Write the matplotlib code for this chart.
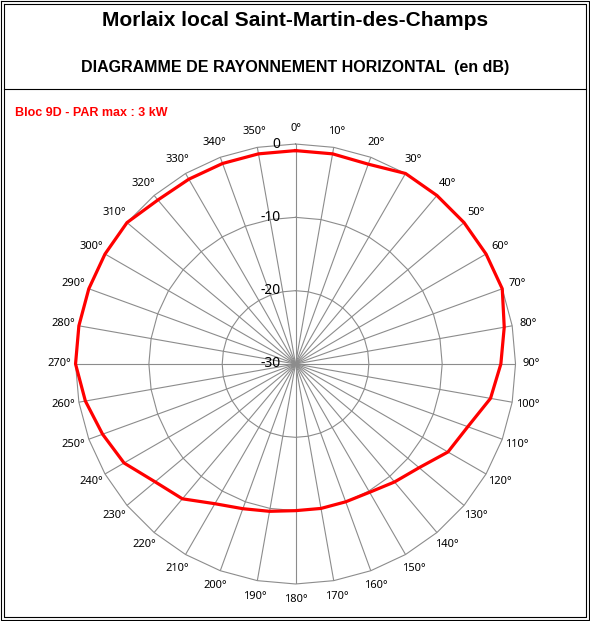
import numpy as np
import matplotlib
matplotlib.use("Agg")
import matplotlib.pyplot as plt
from matplotlib.lines import Line2D

# Horizontal radiation pattern, one value every 10 degrees (dB)
angles_deg = list(range(0, 360, 10))
gain_db = [-0.9, -0.9, -1.0, 0.0, 0.0, 0.0, 0.0, 0.0, -1.1,
           -2.0, -3.0, -5.0, -6.0, -8.0, -9.0, -9.8, -10.0, -10.0,
           -10.0, -9.6, -9.0, -8.0, -6.0, -5.0, -3.0, -2.0, -0.9,
           0.0, 0.0, 0.0, 0.0, 0.0, -0.8, -0.9, -0.9, -0.9]
angle_labels = [f"{a}°" for a in angles_deg]
r_levels = [-30, -20, -10, 0]

title = "Morlaix local Saint-Martin-des-Champs"
subtitle = "DIAGRAMME DE RAYONNEMENT HORIZONTAL  (en dB)"
series_label = "Bloc 9D - PAR max : 3 kW"

grid_col = "#8c8c8c"

fig = plt.figure(figsize=(5.9, 6.21), dpi=100)
ax = fig.add_axes([0.128, 0.0596, 0.7458, 0.7085], projection="polar")
ax.set_theta_zero_location("N")
ax.set_theta_direction(-1)
ax.set_ylim(-30, 0)

theta = np.deg2rad(angles_deg)
closed_theta = np.append(theta, theta[0])

# spokes through the theta grid, polygonal rings drawn by hand (Excel radar style)
ax.set_xticks(theta)
ax.set_xticklabels(angle_labels, fontsize=8, family="Noto Sans")
ax.tick_params(axis="x", pad=1)
ax.set_yticks(r_levels)
ax.set_yticklabels([])
ax.xaxis.grid(True, color=grid_col, linewidth=0.8)
ax.yaxis.grid(False)
ax.spines["polar"].set_visible(False)

for lvl in r_levels[1:]:
    ax.plot(closed_theta, np.full(closed_theta.shape, lvl),
            color=grid_col, linewidth=0.8, zorder=1, clip_on=False)

for lvl in r_levels:
    ax.annotate(str(lvl), xy=(0, lvl), xytext=(-11, 0),
                textcoords="offset points", ha="right", va="center",
                fontsize=10, family="Noto Sans", annotation_clip=False)

ax.plot(closed_theta, np.append(gain_db, gain_db[0]),
        color="#ff0000", linewidth=2.3, zorder=3, clip_on=False)

# header texts and frame
fig.text(0.5, 0.967, title, ha="center", va="center",
         fontsize=15, fontweight="bold", family="Liberation Sans")
fig.text(0.5, 0.891, subtitle, ha="center", va="center",
         fontsize=11.5, fontweight="bold", family="Liberation Sans")
fig.text(0.025, 0.818, series_label, ha="left", va="center", color="#ff0000",
         fontsize=9, fontweight="bold", family="Liberation Sans")

W, H = 590, 621
def frame(x0, y0, x1, y1, lw):
    xs = [x0 / W, x1 / W, x1 / W, x0 / W, x0 / W]
    ys = [1 - y0 / H, 1 - y0 / H, 1 - y1 / H, 1 - y1 / H, 1 - y0 / H]
    fig.add_artist(Line2D(xs, ys, color="black", linewidth=lw))

frame(1, 1, 589, 620, 0.8)
frame(4, 4, 586, 617, 0.8)
fig.add_artist(Line2D([4 / W, 586 / W], [1 - 88.5 / H, 1 - 88.5 / H],
                      color="black", linewidth=0.8))

fig.savefig("out.png", dpi=100, facecolor="white")
